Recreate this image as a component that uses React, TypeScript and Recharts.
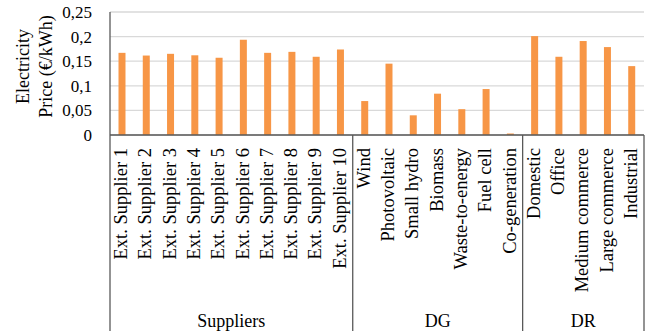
import React from 'react';
import { BarChart, Bar, XAxis, YAxis, CartesianGrid, Label } from 'recharts';

const categories = [
  'Ext. Supplier 1', 'Ext. Supplier 2', 'Ext. Supplier 3', 'Ext. Supplier 4', 'Ext. Supplier 5',
  'Ext. Supplier 6', 'Ext. Supplier 7', 'Ext. Supplier 8', 'Ext. Supplier 9', 'Ext. Supplier 10',
  'Wind', 'Photovoltaic', 'Small hydro', 'Biomass', 'Waste-to-energy', 'Fuel cell', 'Co-generation',
  'Domestic', 'Office', 'Medium commerce', 'Large commerce', 'Industrial',
];
const prices = [
  0.167, 0.1615, 0.165, 0.162, 0.157, 0.1936, 0.167, 0.169, 0.159, 0.1738,
  0.069, 0.145, 0.040, 0.084, 0.0525, 0.0934, 0.003,
  0.201, 0.159, 0.191, 0.1787, 0.140,
];
const groupNames = ['Suppliers', 'DG', 'DR'];
const groupSizes = [10, 7, 5];
const yTicks = [0, 0.05, 0.1, 0.15, 0.2, 0.25];

const data = categories.map((c, i) => ({ name: c, price: prices[i] }));

const FONT = "'Liberation Serif', 'DejaVu Serif', serif";
const LINE = '#595959';
const catStyle: React.CSSProperties = { fontFamily: FONT, fontSize: 18.5, fill: '#000' };
const groupStyle: React.CSSProperties = { fontFamily: FONT, fontSize: 18, fill: '#000' };
const titleStyle: React.CSSProperties = { fontFamily: FONT, fontSize: 18, fill: '#000' };
const tickStyle: React.CSSProperties = { fontFamily: FONT, fontSize: 17, fill: '#000' };

const groupStarts: number[] = [];
{
  let acc = 0;
  for (const s of groupSizes) {
    groupStarts.push(acc);
    acc += s;
  }
}

const CategoryTick = (props: any) => {
  const { x, y, payload } = props;
  const index: number = payload.index;
  const half: number = payload.offset ?? 12;
  const band = half * 2;
  const lineLen = 196;
  const els: React.ReactNode[] = [];
  els.push(
    <text
      key="t"
      x={0}
      y={0}
      transform={`translate(${x - 1},${y + 13}) rotate(-90)`}
      textAnchor="end"
      dominantBaseline="central"
      style={catStyle}
    >
      {payload.value}
    </text>
  );
  const g = groupStarts.indexOf(index);
  if (g >= 0) {
    els.push(<line key="l" x1={x - half} x2={x - half} y1={y} y2={y + lineLen} stroke={LINE} strokeWidth={1.3} />);
    const center = x + ((groupSizes[g] - 1) / 2) * band;
    els.push(
      <text key="g" x={center} y={y + 186} textAnchor="middle" dominantBaseline="central" style={groupStyle}>
        {groupNames[g]}
      </text>
    );
  }
  if (index === categories.length - 1) {
    els.push(<line key="r" x1={x + half} x2={x + half} y1={y} y2={y + lineLen} stroke={LINE} strokeWidth={1.3} />);
  }
  return <g>{els}</g>;
};

const YTitle = (props: any) => {
  const vb = props.viewBox || {};
  const cy = vb.y + vb.height / 2 - 7;
  const x1 = vb.x + 23;
  const x2 = vb.x + 46;
  return (
    <g>
      <text x={0} y={0} transform={`translate(${x1},${cy}) rotate(-90)`} textAnchor="middle" dominantBaseline="central" style={titleStyle}>
        Electricity
      </text>
      <text x={0} y={0} transform={`translate(${x2},${cy}) rotate(-90)`} textAnchor="middle" dominantBaseline="central" style={titleStyle}>
        Price (€/kWh)
      </text>
    </g>
  );
};

export default function App() {
  return (
    <div style={{ position: 'absolute', left: 0, top: 0, width: 656, height: 333, background: '#fff', fontFamily: FONT }}>
      <BarChart
        width={656}
        height={333}
        data={data}
        margin={{ top: 12, right: 12, bottom: 0, left: 0 }}
        barCategoryGap="35%"
        style={{ fontFamily: FONT }}
      >
        <CartesianGrid vertical={false} stroke="#d9d9d9" strokeWidth={1.3} />
        <XAxis
          dataKey="name"
          interval={0}
          height={198}
          tickLine={false}
          tickSize={0}
          tickMargin={0}
          axisLine={{ stroke: LINE, strokeWidth: 1.3 }}
          tick={<CategoryTick />}
        />
        <YAxis
          width={110}
          domain={[0, 0.25]}
          ticks={yTicks}
          interval={0}
          tickLine={false}
          tickSize={0}
          tickMargin={18}
          axisLine={{ stroke: LINE, strokeWidth: 1.3 }}
          tick={{ style: tickStyle, fontFamily: FONT, fontSize: 17, fill: '#000' }}
          tickFormatter={(v: number) => String(v).replace('.', ',')}
        >
          <Label content={<YTitle />} />
        </YAxis>
        <Bar dataKey="price" fill="#F79646" isAnimationActive={false} />
      </BarChart>
    </div>
  );
}
